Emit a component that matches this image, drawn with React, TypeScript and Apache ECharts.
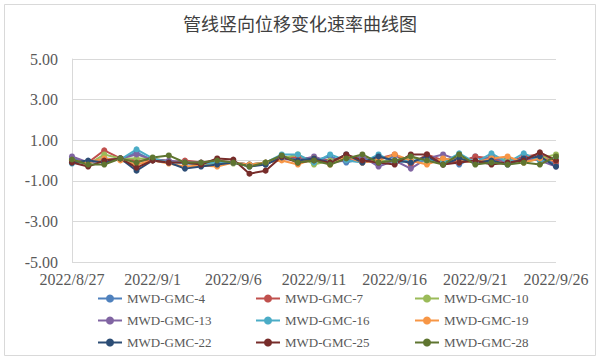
import React, { useEffect, useRef } from "react";
import * as echarts from "echarts";

const dates = [
  "2022/8/27", "2022/8/28", "2022/8/29", "2022/8/30", "2022/8/31",
  "2022/9/1", "2022/9/2", "2022/9/3", "2022/9/4", "2022/9/5",
  "2022/9/6", "2022/9/7", "2022/9/8", "2022/9/9", "2022/9/10",
  "2022/9/11", "2022/9/12", "2022/9/13", "2022/9/14", "2022/9/15",
  "2022/9/16", "2022/9/17", "2022/9/18", "2022/9/19", "2022/9/20",
  "2022/9/21", "2022/9/22", "2022/9/23", "2022/9/24", "2022/9/25",
  "2022/9/26",
];

const seriesNames = [
  "MWD-GMC-4", "MWD-GMC-7", "MWD-GMC-10",
  "MWD-GMC-13", "MWD-GMC-16", "MWD-GMC-19",
  "MWD-GMC-22", "MWD-GMC-25", "MWD-GMC-28",
];

const colors = [
  "#4f81bd", "#c0504d", "#9bbb59",
  "#8064a2", "#4bacc6", "#f79646",
  "#2c4d75", "#772c2a", "#5f7530",
];

const gmc4 = [0.1, -0.1, 0.1, 0.05, 0.4, 0.0, -0.05, -0.15, -0.2, -0.1, -0.1, -0.25, -0.2, 0.2, 0.1, 0.0, 0.2, -0.1, 0.1, -0.2, 0.25, -0.1, 0.0, 0.1, -0.2, 0.2, -0.1, 0.1, -0.1, 0.2, -0.2];
const gmc7 = [0.0, -0.1, 0.5, 0.1, 0.0, 0.0, -0.1, 0.0, -0.1, 0.0, -0.1, -0.2, -0.1, 0.2, 0.15, 0.1, 0.0, 0.2, -0.1, 0.1, 0.3, -0.2, 0.3, 0.0, -0.1, 0.2, 0.1, -0.1, 0.2, 0.3, -0.1];
const gmc10 = [0.0, -0.2, 0.3, 0.1, 0.1, 0.1, -0.05, -0.1, -0.2, -0.1, -0.15, -0.2, -0.1, 0.1, 0.3, -0.2, 0.0, 0.1, 0.2, 0.0, -0.1, 0.2, -0.1, 0.0, 0.2, -0.1, 0.2, 0.0, -0.1, 0.1, 0.3];
const gmc13 = [0.2, -0.1, 0.0, 0.1, 0.3, 0.05, 0.0, -0.1, -0.1, -0.05, -0.1, -0.2, -0.15, 0.1, 0.0, 0.2, -0.1, 0.0, 0.2, -0.3, 0.0, -0.4, 0.1, 0.3, 0.0, -0.1, 0.2, -0.1, 0.1, 0.0, -0.3];
const gmc16 = [-0.15, -0.05, 0.0, 0.05, 0.55, 0.1, -0.1, -0.1, -0.15, -0.1, -0.1, -0.2, -0.1, 0.3, 0.3, -0.1, 0.3, 0.0, -0.1, 0.3, -0.1, 0.0, 0.0, -0.1, 0.35, -0.1, 0.35, -0.1, 0.35, 0.0, 0.1];
const gmc19 = [0.0, -0.1, 0.1, 0.0, -0.2, 0.0, -0.15, -0.3, -0.25, -0.3, -0.1, -0.2, -0.1, 0.0, -0.2, 0.1, -0.2, 0.2, -0.1, 0.0, 0.3, 0.0, -0.2, 0.1, 0.0, -0.1, 0.1, 0.2, -0.1, 0.1, 0.0];
const gmc22 = [-0.1, 0.0, -0.1, 0.1, -0.5, 0.0, -0.1, -0.4, -0.3, -0.2, -0.1, -0.3, -0.2, 0.15, 0.0, 0.1, -0.1, 0.3, -0.1, 0.2, 0.0, -0.1, 0.2, -0.2, 0.1, -0.1, 0.0, -0.2, 0.1, 0.2, -0.3];
const gmc25 = [-0.1, -0.3, 0.0, 0.1, -0.35, 0.0, -0.1, -0.1, -0.2, 0.1, 0.05, -0.65, -0.5, 0.2, -0.1, 0.0, -0.1, 0.3, 0.0, -0.1, -0.2, 0.3, 0.3, -0.2, -0.1, 0.0, -0.2, -0.1, 0.0, 0.4, 0.0];
const gmc28 = [0.05, -0.2, -0.2, 0.1, -0.1, 0.15, 0.25, -0.1, -0.1, 0.0, -0.1, -0.3, -0.1, 0.25, -0.1, 0.0, -0.2, 0.1, 0.3, -0.1, 0.0, 0.2, 0.0, -0.2, 0.3, -0.2, -0.1, -0.2, -0.1, -0.2, 0.2];

const seriesData = [gmc4, gmc7, gmc10, gmc13, gmc16, gmc19, gmc22, gmc25, gmc28];

const serif = "Liberation Serif";

export default function App() {
  const ref = useRef<HTMLDivElement>(null);

  useEffect(() => {
    if (!ref.current) return;
    const chart = echarts.init(ref.current, undefined, { renderer: "svg" });

    const legendCols = [0, 1, 2].map((c) => ({
      orient: "vertical" as const,
      left: [92, 250, 409][c],
      top: 287,
      itemWidth: 24,
      itemHeight: 10,
      itemGap: 9,
      data: [seriesNames[c], seriesNames[c + 3], seriesNames[c + 6]],
      textStyle: { fontFamily: serif, fontSize: 13, color: "#595959", lineHeight: 13 },
    }));

    chart.setOption({
      animation: false,
      backgroundColor: "#ffffff",
      color: colors,
      title: {
        text: "管线竖向位移变化速率曲线图",
        left: "center",
        top: 9,
        textStyle: {
          fontFamily: "Noto Sans CJK SC",
          fontSize: 18,
          fontWeight: "normal",
          color: "#404040",
        },
      },
      graphic: [
        {
          type: "rect",
          shape: { x: 4.5, y: 4.5, width: 591, height: 351 },
          style: { fill: "none", stroke: "#d9d9d9", lineWidth: 1 },
          silent: true,
        },
      ],
      legend: legendCols,
      grid: { left: 72, right: 44, top: 59, bottom: 98 },
      xAxis: {
        type: "category",
        data: dates,
        boundaryGap: false,
        axisLine: { show: true, lineStyle: { color: "#d9d9d9" } },
        axisTick: { show: false },
        axisLabel: {
          interval: 4,
          fontFamily: serif,
          fontSize: 16,
          color: "#595959",
          margin: 9,
        },
        splitLine: { show: false },
      },
      yAxis: {
        type: "value",
        min: -5,
        max: 5,
        interval: 2,
        axisLine: { show: true, lineStyle: { color: "#d9d9d9" } },
        axisTick: { show: false },
        axisLabel: {
          formatter: (v: number) => v.toFixed(2),
          fontFamily: serif,
          fontSize: 16,
          color: "#595959",
          margin: 14,
        },
        splitLine: { show: true, lineStyle: { color: "#d9d9d9" } },
      },
      series: seriesNames.map((name, i) => ({
        name,
        type: "line",
        data: seriesData[i],
        symbol: "circle",
        symbolSize: 6,
        lineStyle: { width: 2 },
        itemStyle: { color: colors[i] },
      })),
    });

    return () => chart.dispose();
  }, []);

  return (
    <div
      ref={ref}
      style={{ position: "fixed", left: 0, top: 0, width: 600, height: 360 }}
    />
  );
}
